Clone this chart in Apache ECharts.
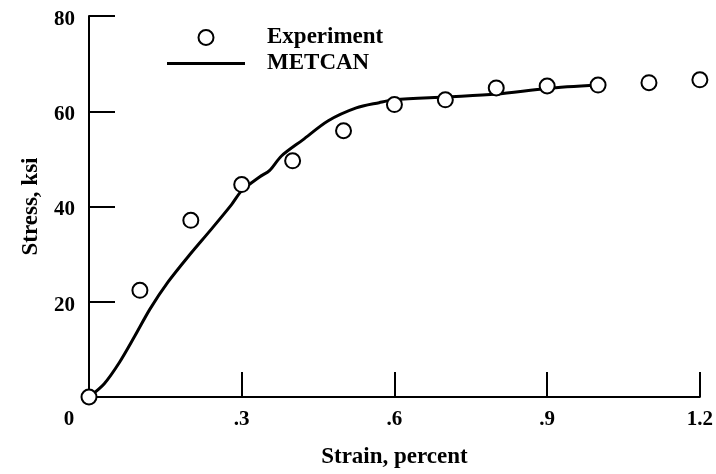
<!DOCTYPE html>
<html>
<head>
<meta charset="utf-8">
<script src="https://cdn.jsdelivr.net/npm/echarts@6/dist/echarts.min.js"></script>
<style>html,body{margin:0;padding:0;background:#fff}#c{width:716px;height:474px}</style>
</head>
<body>
<div id="c"></div>
<script>
// Experiment data
var expStrain = [0, 0.1, 0.2, 0.3, 0.4, 0.5, 0.6, 0.7, 0.8, 0.9, 1.0, 1.1, 1.2];
var expStress = [0, 22.4, 37.1, 44.6, 49.6, 55.9, 61.4, 62.4, 64.9, 65.3, 65.5, 66.0, 66.6];
// METCAN prediction
var metStrain = [0, 0.03, 0.06, 0.09, 0.12, 0.155, 0.195, 0.24, 0.28, 0.30, 0.335, 0.355, 0.378, 0.42, 0.47, 0.525, 0.57, 0.60, 0.70, 0.80, 0.90, 1.0];
var metStress = [0, 2.8, 7.3, 12.8, 18.5, 24.1, 29.5, 35.2, 40.4, 43.3, 46.2, 47.6, 50.6, 54.0, 58.0, 60.7, 61.8, 62.4, 63.0, 63.6, 64.8, 65.5];
// Axis ticks
var xTickLabels = {0: '0', 0.3: '.3', 0.6: '.6', 0.9: '.9', 1.2: '1.2'};
var yTickLabels = {20: '20', 40: '40', 60: '60', 80: '80'};

var font = '"Liberation Serif", "Times New Roman", serif';
var chart = echarts.init(document.getElementById('c'), null, {renderer: 'canvas'});
chart.setOption({
  animation: false,
  backgroundColor: '#fff',
  grid: {left: 89, right: 15, top: 16, bottom: 76, containLabel: false},
  legend: {
    orient: 'vertical', left: 162, top: 21, itemWidth: 78, itemHeight: 15, itemGap: 3,
    textStyle: {fontFamily: font, fontWeight: 'bold', fontSize: 23, color: '#000', lineHeight: 22, padding: [0, 0, 0, 17]},
    data: [
      {name: 'Experiment'},
      {name: 'METCAN', icon: 'path://M0 0H78V3H0Z', itemStyle: {color: '#000'}}
    ]
  },
  xAxis: {
    type: 'value', min: 0, max: 1.2, interval: 0.3,
    name: 'Strain, percent', nameLocation: 'middle', nameGap: 49,
    nameTextStyle: {fontFamily: font, fontWeight: 'bold', fontSize: 23, color: '#000'},
    axisLine: {show: true, onZero: false, lineStyle: {color: '#000', width: 2}},
    axisTick: {show: true, inside: true, length: 25, lineStyle: {color: '#000', width: 2}},
    splitLine: {show: false},
    axisLabel: {
      margin: 12, fontFamily: font, fontWeight: 'bold', fontSize: 21, color: '#000',
      formatter: function (v) {
        var k = Math.round(v * 10) / 10;
        if (k === 0) return '{z|0}';
        return xTickLabels[k] || '';
      },
      rich: {z: {fontFamily: font, fontWeight: 'bold', fontSize: 21, color: '#000', padding: [0, 40, 0, 0]}}
    }
  },
  yAxis: {
    type: 'value', min: 0, max: 80, interval: 20,
    name: 'Stress, ksi', nameLocation: 'middle', nameGap: 46, nameRotate: 90,
    nameTextStyle: {fontFamily: font, fontWeight: 'bold', fontSize: 23, color: '#000'},
    axisLine: {show: true, onZero: false, lineStyle: {color: '#000', width: 2}},
    axisTick: {show: true, inside: true, length: 26, lineStyle: {color: '#000', width: 2}},
    splitLine: {show: false},
    axisLabel: {
      margin: 14, fontFamily: font, fontWeight: 'bold', fontSize: 21, color: '#000',
      formatter: function (v) { return yTickLabels[v] ? '{a|' + yTickLabels[v] + '}' : ''; },
      rich: {a: {fontFamily: font, fontWeight: 'bold', fontSize: 21, color: '#000', padding: [7, 0, 0, 0]}}
    }
  },
  series: [
    {
      name: 'METCAN', type: 'line', smooth: 0.3, symbol: 'none', z: 2,
      lineStyle: {color: '#000', width: 3},
      itemStyle: {color: '#000'},
      data: metStrain.map(function (x, i) { return [x, metStress[i]]; })
    },
    {
      name: 'Experiment', type: 'scatter', symbol: 'circle', symbolSize: 15, z: 3,
      itemStyle: {color: '#fff', borderColor: '#000', borderWidth: 2, opacity: 1},
      data: expStrain.map(function (x, i) { return [x, expStress[i]]; })
    }
  ]
});
</script>
</body>
</html>
